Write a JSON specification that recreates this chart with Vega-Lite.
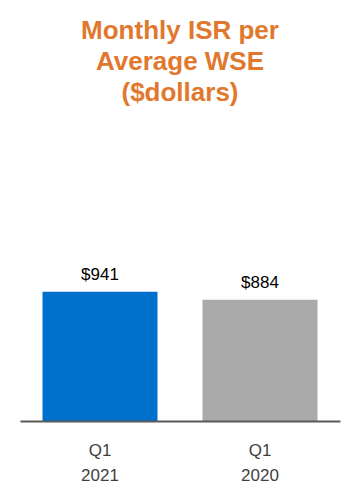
{
  "$schema": "https://vega.github.io/schema/vega-lite/v6.json",
  "autosize": "none",
  "padding": {"left": 20, "right": 20, "top": 130, "bottom": 79},
  "width": 320,
  "height": 291,
  "background": "white",
  "title": {
    "text": ["Monthly ISR per", "Average WSE", "($dollars)"],
    "font": "Liberation Sans",
    "fontSize": 26,
    "fontWeight": "bold",
    "color": "#E0782E",
    "lineHeight": 31,
    "anchor": "middle",
    "frame": "group",
    "offset": 24
  },
  "config": {"view": {"stroke": null}},
  "data": {
    "values": [
      {"period": "Q1 2021", "value": 941, "label": "$941"},
      {"period": "Q1 2020", "value": 884, "label": "$884"}
    ]
  },
  "encoding": {
    "x": {
      "field": "period",
      "type": "nominal",
      "sort": null,
      "scale": {"paddingInner": 0.28125, "paddingOuter": 0.140625},
      "axis": {
        "title": null,
        "labelAngle": 0,
        "labelExpr": "split(datum.value, ' ')",
        "labelFont": "Liberation Sans",
        "labelFontSize": 17,
        "labelColor": "#404040",
        "labelLineHeight": 25,
        "labelPadding": 21,
        "ticks": false,
        "tickSize": 0,
        "domainColor": "#595959",
        "domainWidth": 2,
        "zindex": 1
      }
    },
    "y": {
      "field": "value",
      "type": "quantitative",
      "scale": {"domain": [0, 2120]},
      "axis": null
    }
  },
  "layer": [
    {
      "mark": {"type": "bar"},
      "encoding": {
        "color": {
          "field": "period",
          "type": "nominal",
          "scale": {"domain": ["Q1 2021", "Q1 2020"], "range": ["#0070CD", "#AAAAAA"]},
          "legend": null
        }
      }
    },
    {
      "mark": {"type": "text", "dy": -12, "baseline": "alphabetic", "font": "Liberation Sans", "fontSize": 17, "color": "#000000"},
      "encoding": {"text": {"field": "label"}}
    }
  ]
}
